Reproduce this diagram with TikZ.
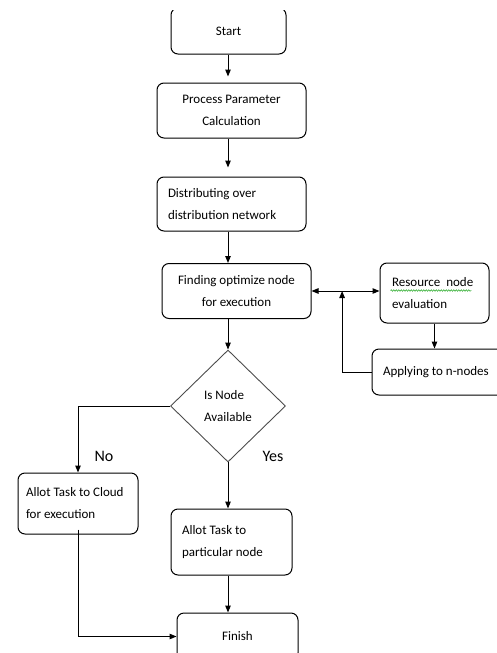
\documentclass[tikz,border=0pt]{standalone}
\usepackage{fontspec}
\setmainfont{Carlito}
\usetikzlibrary{
  calc,arrows.meta,positioning,shapes.geometric,decorations.pathmorphing
}
\tikzset{
  box/.style={draw,rounded corners=7pt,line width=1pt,align=flush center,inner sep=0pt},
  lbox/.style={box,align=flush left},
  decision/.style={diamond,draw=black!70,line width=0.9pt,align=flush left,inner sep=0pt,
    minimum width=115pt,minimum height=112pt},
  arrow/.style={line width=1pt,-{Triangle[length=7pt,width=5.5pt]}},
  link/.style={line width=1pt},
  answer/.style={font=\fontsize{16}{18}\selectfont},
  every node/.style={font=\fontsize{13}{22}\selectfont}
}

\begin{document}
\begin{tikzpicture}[x=1pt,y=-1pt]
  \useasboundingbox (0,0) rectangle (497,653);
  \clip (0,10) rectangle (497,653);

  % main column
  \node[box,minimum width=115pt,minimum height=46pt] (start) at (228.5,31) {Start};
  \node[box,minimum width=149pt,minimum height=55pt] (proc) at (231.5,110.5) {Process Parameter\\Calculation};
  \node[lbox,text width=127pt,inner xsep=11pt,minimum height=54pt] (dist) at (231.5,204) {Distributing over\\distribution network};
  \node[box,minimum width=149pt,minimum height=55pt] (find) at (236.5,291) {Finding optimize node\\for execution};
  \node[decision] (avail) at (228,406) {Is Node\\Available};
  \node[lbox,text width=99pt,inner xsep=11pt,minimum height=66pt] (allot) at (231.5,542) {Allot Task to\\particular node};
  \node[box,minimum width=121pt,minimum height=47pt] (finish) at (237.5,636.5) {Finish};

  % side boxes
  \node[lbox,text width=85pt,inner xsep=12pt,minimum height=60pt] (res) at (434.5,293) {Resource~~node\\evaluation};
  \node[lbox,text width=111pt,inner xsep=11pt,minimum height=46pt] (apply) at (438.5,372) {Applying to n-nodes};
  \node[lbox,text width=104pt,inner xsep=8pt,minimum height=61pt] (cloud) at (78,503.5) {Allot Task to Cloud\\for execution};

  \node[answer] (no)  at (104,456) {No};
  \node[answer] (yes) at (273,456) {Yes};

  \draw[green!60!black,decorate,decoration={snake,amplitude=0.8pt,segment length=2.5pt}]
    ($(res.north west)+(11,28)$) -- ($(res.north west)+(92,28)$);

  \coordinate (col) at (228,0);
  \coordinate (fb) at ($(find.east)!0.45!(find.east -| res.west)$);

  \draw[arrow,shorten >=6pt] (start.south -| col) -- (proc.north -| col);
  \draw[arrow,shorten >=9pt] (proc.south -| col) -- (dist.north -| col);
  \draw[arrow] (dist.south -| col) -- (find.north -| col);
  \draw[arrow] (find.south -| col) -- (avail.north);
  \draw[{Triangle[length=7pt,width=5.5pt]}-{Triangle[length=7pt,width=5.5pt]},line width=1pt]
    (find.east) -- (find.east -| res.west);
  \draw[arrow] (res.south) -- (res.south |- apply.north);
  \draw[arrow] (apply.west) -| (fb);
  \draw[arrow] (avail.west) -| (cloud.north);
  \draw[arrow] (avail.south) -- (avail.south |- allot.north);
  \draw[arrow] (allot.south -| col) -- (finish.north -| col);
  \draw[arrow] ([yshift=5pt]cloud.south) |- (finish.west);
\end{tikzpicture}
\end{document}
